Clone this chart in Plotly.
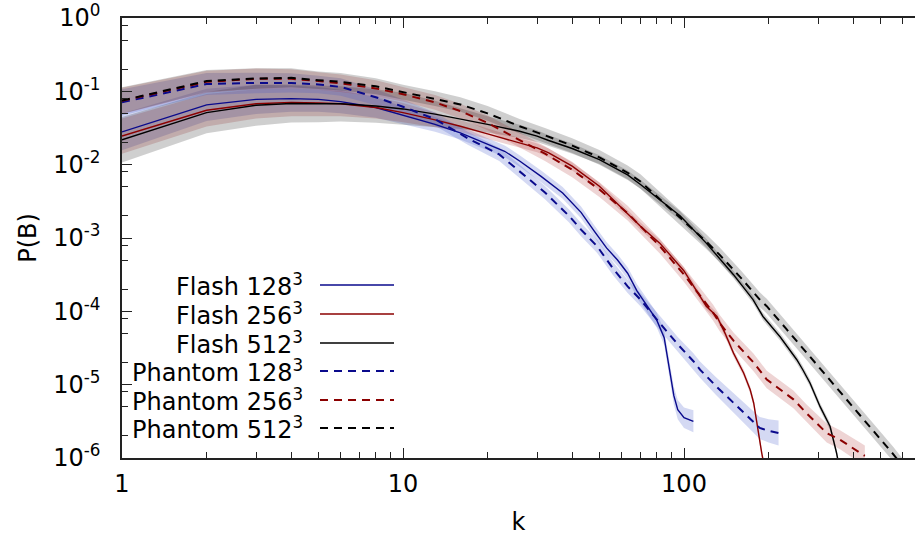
import plotly.graph_objects as go

# ---- magnetic power spectra P(B) vs wavenumber k (log10 of P stored) ----
k_flash128 = [1, 2, 3, 4, 5, 6, 8, 10, 13, 16, 20, 23, 26, 31, 37, 43, 48, 53, 58, 63, 68, 74, 80, 85, 89, 92, 95, 100, 108]
lp_flash128 = [-1.553, -1.184, -1.11, -1.10, -1.11, -1.14, -1.22, -1.33, -1.45, -1.566, -1.72, -1.817, -1.95, -2.16, -2.385,
               -2.65, -2.91, -3.135, -3.30, -3.48, -3.72, -3.93, -4.12, -4.36, -4.80, -5.15, -5.34, -5.45, -5.50]
sd_flash128 = [0.25, 0.22, 0.20, 0.18, 0.17, 0.16, 0.14, 0.12, 0.10, 0.09, 0.08, 0.08, 0.08, 0.08, 0.08,
               0.08, 0.08, 0.08, 0.08, 0.08, 0.09, 0.09, 0.10, 0.10, 0.11, 0.12, 0.13, 0.14, 0.15]

k_flash256 = [1, 2, 3, 4, 5, 6, 8, 10, 13, 16, 20, 26, 30, 33, 40, 50, 56, 63, 70, 82, 100, 120, 131, 140, 150, 163, 172, 177, 181, 185, 189, 195]
lp_flash256 = [-1.61, -1.258, -1.17, -1.15, -1.16, -1.17, -1.22, -1.29, -1.39, -1.476, -1.58, -1.70, -1.77, -1.84, -2.02, -2.295,
               -2.48, -2.67, -2.84, -3.07, -3.45, -3.93, -4.07, -4.30, -4.57, -4.84, -5.07, -5.25, -5.50, -5.75, -5.93, -6.2]
sd_flash256 = [0.24, 0.22, 0.20, 0.19, 0.18, 0.17, 0.15, 0.13, 0.10, 0.08, 0.07, 0.06, 0.06, 0.06, 0.06, 0.05,
               0.05, 0.05, 0.05, 0.05, 0.05, 0.05, 0.05, 0.05, 0.05, 0.05, 0.05, 0.05, 0.05, 0.05, 0.05, 0.05]

k_flash512 = [1, 2, 3, 4, 5, 6, 8, 10, 13, 16, 20, 26, 30, 33, 40, 50, 56, 63, 70, 80, 97, 120, 150, 176, 191, 220, 252, 265, 281, 305, 331, 349, 360]
lp_flash512 = [-1.66, -1.29, -1.19, -1.166, -1.17, -1.17, -1.20, -1.24, -1.31, -1.375, -1.45, -1.545, -1.61, -1.67, -1.78, -1.93,
               -2.03, -2.14, -2.27, -2.45, -2.70, -3.07, -3.50, -3.84, -4.07, -4.35, -4.66, -4.80, -4.98, -5.30, -5.57, -5.93, -6.2]
sd_flash512 = [0.31, 0.28, 0.28, 0.26, 0.25, 0.24, 0.23, 0.22, 0.18, 0.14, 0.11, 0.09, 0.08, 0.07, 0.07, 0.06,
               0.06, 0.06, 0.06, 0.06, 0.06, 0.06, 0.05, 0.05, 0.05, 0.05, 0.05, 0.05, 0.05, 0.05, 0.05, 0.05, 0.05]

k_phantom128 = [1, 2, 3, 4, 5, 6, 8, 10, 13, 17, 22, 28, 32, 39, 43, 49, 56, 63, 70, 82, 95, 108, 114, 130, 150, 170, 186, 200, 217]
lp_phantom128 = [-1.15, -0.90, -0.885, -0.885, -0.907, -0.94, -1.08, -1.21, -1.38, -1.64, -1.86, -2.19, -2.38, -2.70, -2.885,
                 -3.11, -3.42, -3.66, -3.84, -4.16, -4.45, -4.68, -4.795, -5.02, -5.25, -5.45, -5.59, -5.63, -5.66]
sd_phantom128 = [0.18, 0.15, 0.14, 0.13, 0.12, 0.12, 0.11, 0.10, 0.09, 0.09, 0.09, 0.09, 0.09, 0.09, 0.09,
                 0.09, 0.09, 0.09, 0.09, 0.10, 0.10, 0.11, 0.11, 0.12, 0.13, 0.14, 0.15, 0.16, 0.17]

k_phantom256 = [1, 2, 3, 4, 5, 6, 8, 10, 13, 16, 20, 26, 32, 40, 50, 63, 70, 82, 100, 127, 134, 150, 177, 197, 245, 273, 322, 359, 423, 440]
lp_phantom256 = [-1.13, -0.87, -0.83, -0.83, -0.86, -0.89, -0.96, -1.04, -1.15, -1.27, -1.43, -1.66, -1.85, -2.07, -2.34,
                 -2.66, -2.84, -3.11, -3.50, -4.02, -4.16, -4.40, -4.70, -4.93, -5.20, -5.39, -5.66, -5.75, -5.93, -5.97]
sd_phantom256 = [0.18, 0.15, 0.14, 0.13, 0.12, 0.12, 0.11, 0.10, 0.10, 0.10, 0.10, 0.10, 0.10, 0.10, 0.10,
                 0.10, 0.10, 0.10, 0.10, 0.11, 0.11, 0.11, 0.12, 0.12, 0.12, 0.12, 0.13, 0.13, 0.14, 0.14]

k_phantom512 = [1, 2, 3, 4, 5, 6, 8, 10, 13, 16, 20, 26, 32, 40, 50, 56, 63, 70, 97, 120, 134, 160, 186, 197, 230, 273, 322, 379, 430, 485, 556, 650]
lp_phantom512 = [-1.125, -0.86, -0.825, -0.816, -0.849, -0.87, -0.93, -1.01, -1.10, -1.18, -1.30, -1.476, -1.60, -1.74, -1.90,
                 -2.00, -2.11, -2.23, -2.72, -3.05, -3.23, -3.55, -3.84, -3.93, -4.23, -4.565, -4.89, -5.20, -5.45, -5.68, -5.95, -6.28]
sd_phantom512 = [0.18, 0.15, 0.14, 0.13, 0.12, 0.12, 0.11, 0.10, 0.10, 0.10, 0.10, 0.10, 0.10, 0.10, 0.10,
                 0.10, 0.10, 0.10, 0.10, 0.10, 0.10, 0.10, 0.10, 0.10, 0.10, 0.10, 0.10, 0.10, 0.10, 0.10, 0.10, 0.10]

labels = ["Flash 128<sup>3</sup>", "Flash 256<sup>3</sup>", "Flash 512<sup>3</sup>",
          "Phantom 128<sup>3</sup>", "Phantom 256<sup>3</sup>", "Phantom 512<sup>3</sup>"]

y_tickvals = [1, 1e-1, 1e-2, 1e-3, 1e-4, 1e-5, 1e-6]
y_ticktext = ["10<sup>0</sup>", "10<sup>-1</sup>", "10<sup>-2</sup>", "10<sup>-3</sup>",
              "10<sup>-4</sup>", "10<sup>-5</sup>", "10<sup>-6</sup>"]
x_tickvals = [1, 10, 100]
x_ticktext = ["1", "10", "100"]

NAVY = "#0a0a8c"
DARKRED = "#8b0000"
BLACK = "#000000"
FS = 24

series = [
    (labels[0], k_flash128, lp_flash128, sd_flash128, NAVY, "rgba(60,80,200,0.22)", "solid"),
    (labels[1], k_flash256, lp_flash256, sd_flash256, DARKRED, "rgba(170,40,40,0.20)", "solid"),
    (labels[2], k_flash512, lp_flash512, sd_flash512, BLACK, "rgba(0,0,0,0.19)", "solid"),
    (labels[3], k_phantom128, lp_phantom128, sd_phantom128, NAVY, "rgba(60,80,200,0.22)", "8px,6px"),
    (labels[4], k_phantom256, lp_phantom256, sd_phantom256, DARKRED, "rgba(170,40,40,0.20)", "8px,6px"),
    (labels[5], k_phantom512, lp_phantom512, sd_phantom512, BLACK, "rgba(0,0,0,0.19)", "8px,6px"),
]

fig = go.Figure()

# shaded spread around each spectrum
for name, k, lp, sd, col, fillcol, dash in series:
    upper = [10 ** (v + s) for v, s in zip(lp, sd)]
    lower = [10 ** (v - s) for v, s in zip(lp, sd)]
    fig.add_trace(go.Scatter(x=k, y=upper, mode="lines", line=dict(width=0),
                             hoverinfo="skip", showlegend=False))
    fig.add_trace(go.Scatter(x=k, y=lower, mode="lines", line=dict(width=0),
                             fill="tonexty", fillcolor=fillcol,
                             hoverinfo="skip", showlegend=False))

# mean spectra
for name, k, lp, sd, col, fillcol, dash in series:
    fig.add_trace(go.Scatter(x=k, y=[10 ** v for v in lp], mode="lines", name=name,
                             line=dict(color=col, width=1.4 if dash == "solid" else 2, dash=dash),
                             showlegend=False))

# gnuplot-style key: right-aligned labels with line samples to their right
PLOT_L, PLOT_R, PLOT_T, PLOT_B = 122, 915, 18, 458
pw, ph = PLOT_R - PLOT_L, PLOT_B - PLOT_T
row_y = [285, 314, 343, 371, 400, 428]
for (name, k, lp, sd, col, fillcol, dash), yy in zip(series, row_y):
    yp = (PLOT_B - yy) / ph
    fig.add_annotation(x=(304 - PLOT_L) / pw, y=yp, xref="paper", yref="paper",
                       text=name, showarrow=False, xanchor="right", yanchor="middle",
                       font=dict(size=FS, color="black"), borderpad=0)
    fig.add_shape(type="line", xref="paper", yref="paper",
                  x0=(320 - PLOT_L) / pw, x1=(394 - PLOT_L) / pw, y0=yp, y1=yp,
                  line=dict(color=col, width=1.4 if dash == "solid" else 2, dash=dash))

x_minor = [m * d for d in (1, 10, 100) for m in range(2, 10)]
y_minor = [m * 10 ** e for e in range(-6, 0) for m in (2, 5, 8)]

fig.update_xaxes(type="log", range=[0, 2.822], tickvals=x_tickvals, ticktext=x_ticktext,
                 ticks="inside", ticklen=10, tickwidth=1.2, tickcolor="#222",
                 showline=True, linecolor="#222", linewidth=1.5, mirror="ticks",
                 showgrid=False, zeroline=False,
                 minor=dict(tickvals=x_minor, ticks="inside", ticklen=6, tickwidth=1, tickcolor="#222"),
                 title=dict(text="k", font=dict(size=FS, color="black"), standoff=20),
                 tickfont=dict(size=FS, color="black"), ticklabelstandoff=3)
fig.update_yaxes(type="log", range=[-6, 0], tickvals=y_tickvals, ticktext=y_ticktext,
                 ticks="inside", ticklen=10, tickwidth=1.2, tickcolor="#222",
                 showline=True, linecolor="#222", linewidth=1.5, mirror=False,
                 showgrid=False, zeroline=False,
                 minor=dict(tickvals=y_minor, ticks="inside", ticklen=6, tickwidth=1, tickcolor="#222"),
                 title=dict(text="P(B)", font=dict(size=FS, color="black"), standoff=10),
                 tickfont=dict(size=FS, color="black"), ticklabelstandoff=15)

fig.update_layout(width=915, height=536, margin=dict(l=PLOT_L, r=915 - PLOT_R, t=PLOT_T, b=536 - PLOT_B),
                  paper_bgcolor="white", plot_bgcolor="white",
                  font=dict(family="DejaVu Sans", size=FS, color="black"))

fig.write_html("out.html")
